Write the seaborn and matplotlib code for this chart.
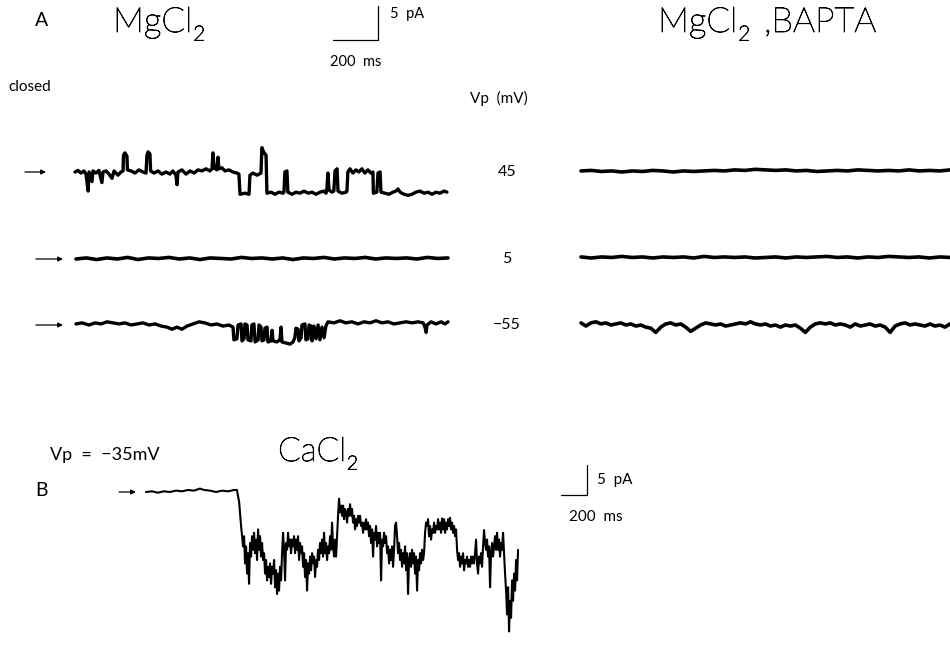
import numpy as np
import matplotlib
matplotlib.use("Agg")
import matplotlib.pyplot as plt
import matplotlib.patheffects as pe
import seaborn as sns

# ---------------- data (time in ms, current in pA relative to closed level) ----------------
# Panel A, MgCl2, Vp = 45 mV
A45_T = [0, 13, 26, 39, 48, 57, 61, 74, 78, 91, 104, 117, 122, 135, 148, 161, 170, 187, 200, 209,
         211, 217, 226, 228, 244, 261, 278, 296, 309, 313, 318, 326, 329, 344, 361, 378, 396, 413, 426, 439,
         444, 448, 465, 483, 500, 518, 535, 552, 570, 587, 596, 600, 605, 617, 622, 626, 639, 652, 670, 687,
         705, 713, 718, 740, 757, 761, 774, 792, 809, 813, 822, 831, 835, 853, 870, 887, 905, 909, 913, 922,
         926, 944, 961, 979, 996, 1014, 1031, 1048, 1066, 1083, 1092, 1096, 1100, 1105, 1118, 1126, 1131, 1140, 1144, 1161,
         1179, 1183, 1187, 1196, 1209, 1222, 1235, 1248, 1261, 1274, 1287, 1296, 1298, 1313, 1318, 1327, 1331, 1348, 1366, 1383,
         1396, 1405, 1414, 1431, 1449, 1466, 1483, 1501, 1518, 1536, 1553, 1570, 1588, 1605, 1618]
A45_I = [0.0, 0.15, -0.1, 0.1, -0.2, -1.8, 0.0, -0.9, 0.1, -0.1, 0.15, -1.0, 0.0, 0.1, -0.2, -0.6, 0.1, -0.3, 0.0, 0.1,
         1.6, 1.8, 1.5, 0.2, 0.1, -0.1, 0.2, 0.0, -0.1, 1.6, 1.9, 1.7, 0.1, -0.1, 0.1, -0.2, 0.0, -0.2, 0.1, -0.3,
         -1.2, 0.0, 0.2, -0.2, 0.1, -0.1, 0.2, 0.1, 0.3, 0.1, 0.3, 1.8, 0.4, 0.2, 1.4, 0.3, 0.4, 0.1, 0.2, 0.0,
         -0.1, -0.2, -2.1, -2.0, -2.1, -0.3, -0.1, -0.3, -0.1, 2.3, 1.8, 1.6, -2.0, -1.9, -2.1, -1.9, -2.0, -1.9, 0.0, 0.1,
         -1.9, -2.1, -1.9, -2.0, -1.8, -2.0, -1.9, -2.1, -1.9, -1.8, -2.0, -1.6, -0.1, -1.7, -1.9, -1.8, 0.1, 0.3, -1.8, -2.0,
         -1.9, -1.8, 0.0, 0.3, -0.1, 0.2, 0.0, 0.3, -0.1, 0.2, -0.1, 0.0, -2.0, -1.9, -0.1, 0.0, -1.9, -2.0, -2.1, -1.9,
         -1.8, -1.6, -1.9, -2.1, -2.2, -2.1, -1.9, -1.8, -2.0, -1.9, -2.1, -1.9, -2.0, -1.8, -1.9]

# Panel A, MgCl2, Vp = 5 mV (uniformly sampled)
A5_I = [0.0, 0.1, -0.05, 0.1, 0.0, 0.15, -0.05, 0.1, 0.05, 0.15, 0.0, 0.1, -0.05, 0.1, 0.05, 0.0, 0.15, 0.05, 0.1,
        0.0, 0.1, -0.05, 0.1, 0.05, 0.15, 0.0, 0.1, 0.05, 0.15, 0.0, 0.1, 0.05, 0.1, 0.0, 0.15, 0.05, 0.1]

# Panel A, MgCl2, Vp = -55 mV
A55_T = [0, 26, 57, 83, 109, 135, 161, 187, 213, 239, 265, 291, 318, 344, 370, 396, 418, 439, 461, 483,
         509, 535, 561, 587, 613, 639, 665, 683, 687, 700, 705, 718, 722, 731, 735, 744, 748, 761, 765, 774,
         779, 792, 796, 805, 809, 818, 822, 831, 835, 848, 853, 857, 874, 887, 892, 896, 913, 931, 944, 952,
         957, 966, 970, 979, 983, 996, 1000, 1009, 1014, 1022, 1027, 1035, 1044, 1053, 1061, 1070, 1079, 1087, 1096, 1122,
         1148, 1174, 1200, 1227, 1253, 1279, 1305, 1331, 1357, 1383, 1409, 1436, 1462, 1488, 1510, 1518, 1523, 1527, 1544, 1566,
         1588, 1605, 1618]
A55_I = [0.1, 0.2, 0.0, 0.2, 0.1, 0.3, 0.2, 0.1, 0.2, 0.0, 0.1, 0.2, 0.0, 0.1, -0.1, -0.2, -0.4, -0.2, -0.4, -0.1,
         0.1, 0.3, 0.2, 0.0, 0.1, -0.1, 0.0, -0.2, -1.4, -1.3, 0.0, 0.1, -1.5, -1.3, 0.1, 0.0, -1.4, -1.5, 0.0, 0.1,
         -1.6, -1.4, 0.0, -0.2, -1.5, -1.4, -0.3, -0.2, -1.6, -1.5, -0.5, -1.5, -1.6, -1.4, -0.2, -1.6, -1.7, -1.8, -1.6, -1.2,
         -0.3, -0.4, -1.5, -1.2, 0.0, 0.1, -1.4, -1.3, 0.0, -0.1, -1.5, -0.1, -1.3, 0.0, -1.4, -0.2, -1.2, -0.1, 0.3, 0.2,
         0.4, 0.2, 0.3, 0.1, 0.3, 0.2, 0.4, 0.2, 0.3, 0.1, 0.2, 0.3, 0.2, 0.3, 0.2, -0.2, -0.7, 0.0, 0.3, 0.1,
         0.3, 0.1, 0.3]

# Panel A, MgCl2 + BAPTA (uniformly sampled)
B45_I = [0.1, 0.15, 0.05, 0.1, 0.0, 0.1, 0.05, 0.15, 0.1, 0.0, 0.1, 0.05, 0.1, 0.15, 0.1, 0.2, 0.15, 0.25, 0.2,
         0.15, 0.2, 0.1, 0.15, 0.05, 0.1, 0.15, 0.1, 0.2, 0.15, 0.1, 0.15, 0.1, 0.2, 0.1, 0.15, 0.1, 0.2]
B5_I = [0.1, 0.0, 0.1, 0.05, 0.15, 0.05, 0.1, 0.0, 0.1, 0.05, 0.1, 0.0, 0.15, 0.05, 0.1, 0.05, 0.1, 0.0, 0.05,
        0.1, 0.0, 0.1, 0.05, 0.1, 0.15, 0.05, 0.1, 0.0, 0.1, 0.05, 0.15, 0.1, 0.05, 0.1, 0.0, 0.1, 0.05]
B55_I = [0.2, -0.1, 0.2, 0.3, 0.1, 0.2, 0.0, 0.1, 0.2, 0.0, 0.1, -0.1, 0.0, -0.2, -0.3, -0.7, -0.2, 0.1, 0.2, 0.0,
         0.1, -0.2, -0.6, -0.3, 0.0, 0.2, 0.1, 0.0, 0.1, -0.1, 0.0, 0.1, 0.2, 0.1, 0.3, 0.1, 0.0, 0.1, -0.1, 0.0,
         -0.2, 0.0, -0.1, 0.0, -0.3, -0.7, -0.2, 0.1, 0.2, 0.1, 0.2, 0.0, 0.1, 0.0, -0.2, 0.1, -0.1, 0.0, 0.1, -0.1,
         0.0, -0.2, -0.7, -0.1, 0.1, 0.2, 0.0, 0.1, 0.0, -0.1, 0.1, -0.1, 0.0, -0.2, 0.1]

# Panel B, CaCl2, Vp = -35 mV: closed stretch, then burst sampled every ~4 ms
CA_BASE_T = [0, 24, 49, 73, 98, 122, 147, 171, 196, 220, 237, 261, 286, 310, 335, 359, 371, 380, 388]
CA_BASE_I = [0.0, 0.1, -0.1, 0.1, 0.0, 0.2, 0.1, 0.3, 0.2, 0.5, 0.3, 0.2, 0.0, 0.2, 0.1, 0.3, 0.3, -1.5, -5.0]
CA_BURST_I = [
    -8.0, -6.5, -10.5, -8.0, -12.0, -9.0, -13.5, -7.5, -9.5, -6.5, -8.5,
    -6.0, -9.0, -7.0, -10.0, -5.5, -8.5, -6.5, -9.5, -7.5, -10.0,
    -9.0, -12.0, -10.0, -13.0, -11.0, -12.5, -10.5, -13.5, -11.0, -12.0,
    -10.0, -14.0, -11.5, -15.0, -12.0, -14.5, -11.0, -13.0, -9.0, -6.0,
    -8.5, -13.0, -7.5, -8.5, -6.0, -8.0, -7.0, -9.0, -7.0, -8.0,
    -6.5, -9.0, -7.0, -8.5, -6.5, -10.0, -7.5, -9.0, -8.0, -11.0,
    -9.0, -12.5, -10.0, -14.5, -10.5, -12.0, -9.5, -11.5, -9.0, -10.5,
    -9.5, -12.5, -10.0, -11.0, -8.5, -10.0, -7.5, -9.0, -7.0, -9.5,
    -6.0, -9.0, -7.5, -10.0, -8.0, -9.0, -6.5, -8.5, -4.5, -8.0,
    -9.5, -7.0, -9.5, -6.5, -3.5, -1.0, -3.0, -2.0, -3.5, -2.0,
    -4.0, -2.5, -3.0, -4.5, -2.5, -3.5, -1.8, -3.5, -2.5, -4.5,
    -3.5, -5.5, -4.0, -5.0, -3.5, -4.5, -3.5, -5.0, -4.5, -6.0,
    -4.5, -5.5, -4.0, -5.5, -4.5, -6.5, -5.0, -7.5, -5.5, -9.5,
    -6.0, -7.0, -5.0, -8.0, -6.0, -7.5, -6.0, -13.0, -7.0, -8.0,
    -6.0, -7.5, -6.5, -9.0, -8.0, -10.5, -8.5, -10.0, -8.0, -11.0,
    -8.5, -5.0, -4.5, -6.5, -9.0, -7.5, -10.0, -8.5, -11.0, -9.0,
    -10.5, -8.0, -11.5, -9.0, -15.0, -10.0, -9.0, -11.0, -8.5, -10.5,
    -9.0, -12.0, -9.5, -14.5, -10.0, -11.5, -9.0, -10.5, -8.5, -10.0,
    -9.0, -6.0, -4.5, -5.0, -4.0, -6.5, -5.0, -7.0, -5.5, -6.0,
    -4.5, -6.0, -5.0, -5.5, -4.0, -5.5, -4.5, -6.0, -3.9, -5.5,
    -4.0, -6.0, -4.5, -5.5, -4.0, -5.0, -3.8, -5.5, -4.5, -6.0,
    -5.0, -6.5, -5.5, -8.5, -10.0, -9.0, -11.0, -9.5, -10.5, -9.0,
    -11.5, -10.0, -10.5, -9.5, -11.0, -10.0, -11.0, -9.5, -10.5, -9.5,
    -10.5, -9.0, -7.0, -10.5, -12.0, -9.5, -10.5, -9.0, -11.0, -8.0,
    -5.6, -7.5, -8.5, -7.0, -9.5, -8.0, -14.0, -9.0, -7.5, -9.5,
    -8.0, -6.5, -8.5, -6.0, -8.5, -7.0, -9.5, -7.5, -8.5, -6.0,
    -9.0, -12.0, -14.5, -18.0, -14.0, -20.5, -16.0, -18.5, -13.0, -16.0,
    -12.0, -14.5, -10.0, -13.0, -8.5]
CA_BURST_T0 = 396.0   # ms, first burst sample
CA_BURST_DT = 4.08    # ms between burst samples

A_DUR = 1618.0        # ms, panel A traces
BAPTA_DUR = 1605.0
CA_DUR = 1520.0
SCALE_T = 200.0       # ms
SCALE_I = 5.0         # pA
VOLT_LABELS = ["45", "5", "\u221255"]

# ---------------- layout (pixels of the 950x653 canvas) ----------------
W, H = 950, 653
A_MS_PER_PX = 4.35
A_PA_PER_PX = 1 / 10.6
B_MS_PER_PX = 4.08
B_PA_PER_PX = 1 / 6.8

sns.set_theme(style="white")
plt.rcParams["font.family"] = ["Lato", "DejaVu Sans"]

fig = plt.figure(figsize=(9.5, 6.53), dpi=100)
fig.patch.set_facecolor("white")
base = fig.add_axes([0, 0, 1, 1])
base.set_axis_off()
base.set_xlim(0, W)
base.set_ylim(H, 0)

TITLE_FX = [pe.withStroke(linewidth=0.6, foreground="black")]


def trace_axes(x0, y0, dur, ms_per_px, pa_per_px, half=90):
    w = dur / ms_per_px
    ax = fig.add_axes([x0 / W, 1 - (y0 + half) / H, w / W, 2 * half / H])
    ax.set_xlim(0, dur)
    ax.set_ylim(-half * pa_per_px, half * pa_per_px)
    ax.set_axis_off()
    ax.patch.set_alpha(0)
    return ax


def draw(ax, t, i, lw):
    sns.lineplot(x=np.asarray(t, float), y=np.asarray(i, float), ax=ax, color="black",
                 linewidth=lw, estimator=None, sort=False, legend=False)
    for ln in ax.lines:
        ln.set_clip_on(False)


def arrow(x0, x1, y):
    base.annotate("", xy=(x1, y), xytext=(x0, y),
                  arrowprops=dict(arrowstyle="-|>", mutation_scale=7, lw=0.9,
                                  color="black", shrinkA=0, shrinkB=0))


def txt(x, y, s, size, ha="left", va="center", title=False):
    kw = dict(fontweight="light", path_effects=TITLE_FX) if title else {}
    return base.text(x, y, s, fontsize=size, ha=ha, va=va, color="black", **kw)


def after(prev, s, size, dx=0.5, dy=0.0, title=True):
    kw = dict(fontweight="light", path_effects=TITLE_FX) if title else {}
    return base.annotate(s, xy=(1, 0.5), xycoords=prev, xytext=(dx, dy),
                         textcoords="offset points", fontsize=size, ha="left",
                         va="center", color="black", **kw)


# Panel A traces
rows_y = [172, 259, 325]
ax = trace_axes(75, rows_y[0], A_DUR, A_MS_PER_PX, A_PA_PER_PX)
draw(ax, A45_T, A45_I, 2.4)
ax = trace_axes(76, rows_y[1], A_DUR, A_MS_PER_PX, A_PA_PER_PX)
draw(ax, np.linspace(0, A_DUR, len(A5_I)), A5_I, 2.6)
ax = trace_axes(76, rows_y[2], A_DUR, A_MS_PER_PX, A_PA_PER_PX)
draw(ax, A55_T, A55_I, 2.4)

# BAPTA traces
for y0, vals in zip([172, 258, 325], [B45_I, B5_I, B55_I]):
    ax = trace_axes(581, y0, BAPTA_DUR, A_MS_PER_PX, A_PA_PER_PX)
    draw(ax, np.linspace(0, BAPTA_DUR, len(vals)), vals, 2.6)

# Panel B trace
ca_t = list(CA_BASE_T) + list(CA_BURST_T0 + CA_BURST_DT * np.arange(len(CA_BURST_I)))
ca_i = list(CA_BASE_I) + list(CA_BURST_I)
ax = trace_axes(146, 492, CA_DUR, B_MS_PER_PX, B_PA_PER_PX, half=160)
draw(ax, ca_t, ca_i, 1.5)

# scale bars (each in its own calibrated axes)
ax = trace_axes(333, 40, SCALE_T, SCALE_T / 45, SCALE_I / 34)
draw(ax, [0, SCALE_T, SCALE_T], [0, 0, SCALE_I], 0.9)
ax = trace_axes(561, 495, SCALE_T, SCALE_T / 26, SCALE_I / 30)
draw(ax, [0, SCALE_T, SCALE_T], [0, 0, SCALE_I], 0.9)

# arrows marking the closed level
arrow(25, 46, 172)
arrow(36, 63, 259)
arrow(36, 63, 325)
arrow(119, 136, 492)

# text
txt(35, 20, "A", 14)
t1 = txt(113, 22, "MgCl", 25, title=True)
after(t1, "2", 15, dx=0.5, dy=-9)
txt(390, 14, "5  pA", 10.5)
txt(356, 62, "200  ms", 10.5, ha="center")
txt(8, 87, "closed", 11)
txt(470, 98, "Vp  (mV)", 11)
for y, s in zip(rows_y, VOLT_LABELS):
    txt(507, y, s, 11.5, ha="center")
t2 = txt(658, 22, "MgCl", 25, title=True)
after(t2, "2", 15, dx=0.5, dy=-9)
base.annotate(" ,BAPTA", xy=(1, 0.5), xycoords=t2, xytext=(12, 0),
              textcoords="offset points", fontsize=25, ha="left", va="center",
              color="black", fontweight="light", path_effects=TITLE_FX)
txt(50, 455, "Vp  =  \u221235mV", 13)
t3 = txt(278, 452, "CaCl", 24, title=True)
after(t3, "2", 14, dx=0.5, dy=-9)
txt(35, 490, "B", 14)
txt(597, 480, "5  pA", 11)
txt(596, 517, "200  ms", 11, ha="center")

fig.savefig("out.png", dpi=100, facecolor="white")
